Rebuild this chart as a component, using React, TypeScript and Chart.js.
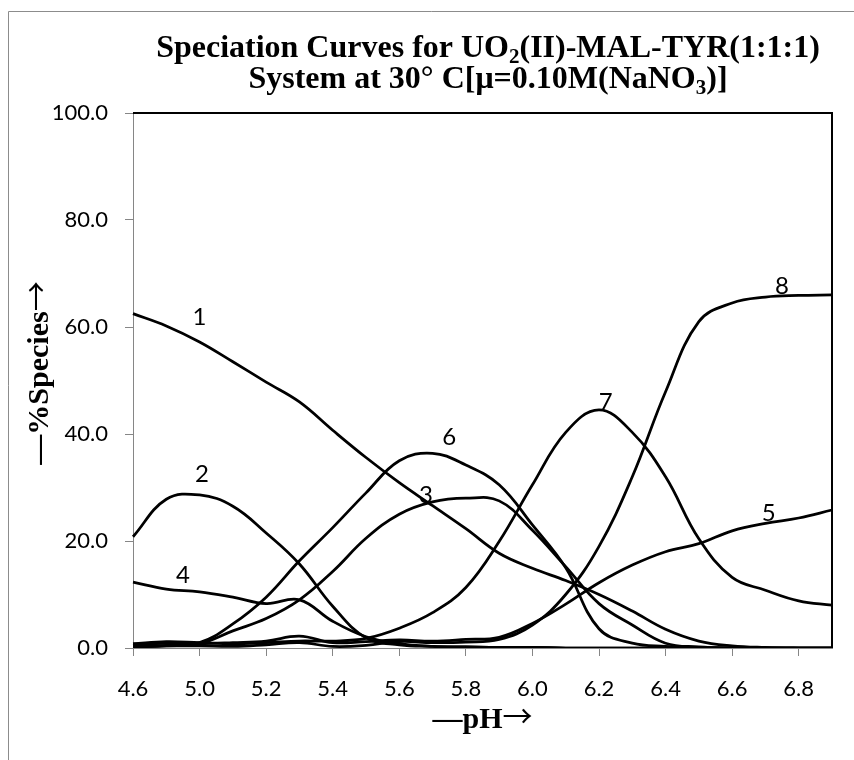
import React, { useEffect, useRef } from 'react';
import { Chart, registerables } from 'chart.js';

Chart.register(...registerables);

// pH categories (x axis); a label is shown on every second category
const phValues = ['4.6', '4.8', '5.0', '5.1', '5.2', '5.3', '5.4', '5.5', '5.6', '5.7', '5.8',
  '5.9', '6.0', '6.1', '6.2', '6.3', '6.4', '6.5', '6.6', '6.7', '6.8', '6.9'];

// % species for each curve
const species1 = [62.5, 60.2, 57.2, 53.5, 49.7, 46.0, 40.7, 35.6, 30.9, 26.6, 22.3, 17.7, 14.9, 12.6, 10.0, 6.9, 3.5, 1.3, 0.4, 0.1, 0.0, 0.0];
const species2 = [20.8, 27.8, 28.6, 26.5, 21.5, 15.7, 7.8, 1.9, 0.6, 0.3, 0.2, 0.1, 0.1, 0.0, 0.0, 0.0, 0.0, 0.0, 0.0, 0.0, 0.0, 0.0];
const species3 = [0.2, 0.4, 0.8, 3.2, 5.5, 9.0, 14.3, 20.5, 25.0, 27.3, 28.0, 27.5, 22.0, 15.2, 8.3, 4.3, 0.9, 0.2, 0.0, 0.0, 0.0, 0.0];
const species4 = [12.3, 11.0, 10.5, 9.5, 8.3, 9.0, 5.0, 2.1, 0.8, 0.3, 0.2, 0.1, 0.1, 0.0, 0.0, 0.0, 0.0, 0.0, 0.0, 0.0, 0.0, 0.0];
const species5 = [0.5, 0.9, 0.8, 1.0, 1.3, 2.2, 1.0, 1.2, 1.5, 1.3, 1.6, 2.0, 4.6, 8.2, 12.2, 15.5, 18.0, 19.5, 21.9, 23.3, 24.3, 25.8];
const species6 = [0.3, 0.5, 1.0, 4.5, 9.5, 16.3, 22.5, 29.0, 35.0, 36.4, 34.2, 30.5, 23.0, 15.0, 3.6, 0.9, 0.3, 0.1, 0.0, 0.0, 0.0, 0.0];
const species7 = [0.8, 1.2, 1.0, 0.8, 1.0, 1.3, 1.3, 1.8, 3.7, 6.6, 11.3, 19.9, 30.5, 40.3, 44.5, 40.3, 32.0, 20.4, 13.2, 10.8, 8.8, 8.0];
const species8 = [0.2, 0.4, 0.4, 0.3, 0.6, 1.0, 0.3, 0.5, 1.2, 1.0, 1.1, 1.6, 4.3, 10.0, 19.0, 32.0, 47.9, 61.0, 64.5, 65.6, 65.9, 66.0];

const allSpecies = [species1, species2, species3, species4, species5, species6, species7, species8];

// curve number labels: text, category index, % value (anchor)
const curveNames = ['1', '2', '3', '4', '5', '6', '7', '8'];
const curveLabelIndex = [2.0, 2.07, 8.8, 1.5, 19.1, 9.5, 14.2, 19.5];
const curveLabelValue = [61.9, 32.5, 28.6, 13.6, 25.2, 39.3, 46.0, 67.7];

type Seg = { t: string; sub?: boolean; arrow?: boolean };

const titleLine1: Seg[] = [
  { t: 'Speciation Curves for UO' },
  { t: '2', sub: true },
  { t: '(II)-MAL-TYR(1:1:1)' },
];
const titleLine2: Seg[] = [
  { t: 'System at 30° C[μ=0.10M(NaNO' },
  { t: '3', sub: true },
  { t: ')]' },
];
const yTitle: Seg[] = [{ t: '—%Species' }, { t: '→', arrow: true }];
const xTitle: Seg[] = [{ t: '—pH' }, { t: '→', arrow: true }];

const SERIF = '"Liberation Serif", "Times New Roman", serif';
const SANS = 'Lato, "Open Sans", sans-serif';
const ARROW = '"Noto Sans CJK JP", "DejaVu Sans", sans-serif';

function drawSegments(ctx: CanvasRenderingContext2D, segs: Seg[], cx: number, baseline: number, size: number) {
  const fontFor = (s: Seg) =>
    s.arrow ? `${size}px ${ARROW}` : s.sub ? `bold ${Math.round(size * 0.66)}px ${SERIF}` : `bold ${size}px ${SERIF}`;
  let total = 0;
  const widths = segs.map((s) => {
    ctx.font = fontFor(s);
    const w = ctx.measureText(s.t).width;
    total += w;
    return w;
  });
  let x = cx - total / 2;
  ctx.textAlign = 'left';
  ctx.textBaseline = 'alphabetic';
  segs.forEach((s, i) => {
    ctx.font = fontFor(s);
    const dy = s.sub ? size * 0.19 : s.arrow ? -size * 0.02 : 0;
    ctx.fillText(s.t, x, baseline + dy);
    x += widths[i];
  });
}

const decorPlugin = {
  id: 'decor',
  afterDraw(chart: any) {
    const ctx: CanvasRenderingContext2D = chart.ctx;
    const { left, right, top, bottom } = chart.chartArea;
    const xs = chart.scales.x;
    const ys = chart.scales.y;
    ctx.save();
    // outer frame
    ctx.strokeStyle = '#8c8c8c';
    ctx.lineWidth = 1;
    ctx.beginPath();
    ctx.moveTo(8.5, 760);
    ctx.lineTo(8.5, 11.5);
    ctx.lineTo(854, 11.5);
    ctx.stroke();
    // plot frame
    ctx.strokeStyle = '#000';
    ctx.lineWidth = 2;
    ctx.beginPath();
    ctx.moveTo(left, top);
    ctx.lineTo(right, top);
    ctx.lineTo(right, bottom);
    ctx.stroke();
    // titles
    ctx.fillStyle = '#000';
    drawSegments(ctx, titleLine1, 488, 57, 32);
    drawSegments(ctx, titleLine2, 488, 88, 32);
    drawSegments(ctx, xTitle, (left + right) / 2, 728, 30);
    ctx.save();
    ctx.translate(48, 373);
    ctx.rotate(-Math.PI / 2);
    drawSegments(ctx, yTitle, 0, 0, 30);
    ctx.restore();
    // curve labels
    ctx.font = `24px ${SANS}`;
    ctx.textAlign = 'center';
    ctx.textBaseline = 'middle';
    curveNames.forEach((n, i) => {
      ctx.fillText(n, xs.getPixelForValue(curveLabelIndex[i]), ys.getPixelForValue(curveLabelValue[i]));
    });
    ctx.restore();
  },
};

export default function App() {
  const ref = useRef<HTMLCanvasElement | null>(null);
  useEffect(() => {
    if (!ref.current) return;
    const chart = new Chart(ref.current, {
      type: 'line',
      data: {
        labels: phValues,
        datasets: allSpecies.map((s, i) => ({
          label: curveNames[i],
          data: s,
          borderColor: '#000',
          backgroundColor: '#000',
          borderWidth: 2.75,
          pointRadius: 0,
          pointHoverRadius: 0,
          tension: 0.4,
          fill: false,
        })),
      },
      options: {
        animation: false,
        responsive: false,
        maintainAspectRatio: false,
        layout: { padding: { top: 113, right: 22, bottom: 0, left: 0 } },
        plugins: {
          legend: { display: false },
          tooltip: { enabled: false },
          title: { display: false },
        },
        scales: {
          x: {
            type: 'category',
            offset: false,
            grid: { drawOnChartArea: false, drawTicks: true, tickLength: 8, color: '#868686', lineWidth: 1 },
            border: { display: true, color: '#868686', width: 1 },
            ticks: {
              autoSkip: false,
              maxRotation: 0,
              minRotation: 0,
              padding: 20,
              color: '#000',
              font: { family: SANS, size: 22 },
              callback: (_v: any, idx: number) => (idx % 2 === 0 ? phValues[idx] : null),
            },
            afterFit: (s: any) => { s.height = 112; },
          },
          y: {
            min: 0,
            max: 100,
            grid: { drawOnChartArea: false, drawTicks: true, tickLength: 8, color: '#868686', lineWidth: 1 },
            border: { display: true, color: '#868686', width: 1 },
            ticks: {
              stepSize: 20,
              padding: 17,
              color: '#000',
              font: { family: SANS, size: 22 },
              callback: (v: any) => Number(v).toFixed(1),
            },
            afterFit: (s: any) => { s.width = 133; },
          },
        },
      },
      plugins: [decorPlugin],
    });
    return () => chart.destroy();
  }, []);
  return (
    <div style={{ position: 'absolute', left: 0, top: 0, width: 854, height: 760, background: '#fff' }}>
      <canvas ref={ref} width={854} height={760} style={{ display: 'block' }} />
    </div>
  );
}
